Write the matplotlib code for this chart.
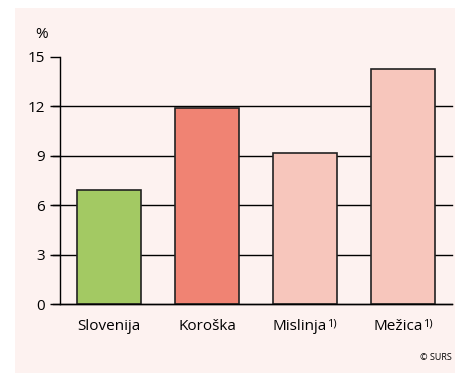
import matplotlib
matplotlib.use("Agg")
import matplotlib.pyplot as plt
from matplotlib.patches import Rectangle

categories = ["Slovenija", "Koroška", "Mislinja", "Mežica"]
footnotes = ["", "", "1)", "1)"]
values = [6.9, 11.9, 9.2, 14.3]
colors = ["#a3c963", "#f08373", "#f7c6bc", "#f7c6bc"]
yticks = [0, 3, 6, 9, 12, 15]
bg = "#fdf2f0"

plt.rcParams['font.family'] = ['Open Sans', 'DejaVu Sans']

fig = plt.figure(figsize=(4.56, 3.73), dpi=100)
fig.patches.append(Rectangle((15/456, 0), 1 - 15/456, 1 - 8/373,
                             transform=fig.transFigure, facecolor=bg,
                             edgecolor='none', zorder=-10))
ax = fig.add_axes([60/456, 1 - 304/373, 392/456, (304 - 57)/373])
ax.set_facecolor('none')

x = range(len(categories))
for yv in yticks[1:-1]:
    ax.axhline(yv, color='black', lw=1.0, zorder=1, xmin=-7/392, clip_on=False)
ax.bar(x, values, width=0.65, color=colors, edgecolor='#222222', linewidth=1.2, zorder=3)

ax.set_xlim(-0.5, 3.5)
ax.set_ylim(0, 15)
ax.set_yticks(yticks)
ax.set_yticklabels([str(v) for v in yticks], fontsize=11)
ax.tick_params(axis='y', length=7, width=1.0, pad=4, colors='black')
ax.set_xticks([])
for s in ['top', 'right']:
    ax.spines[s].set_visible(False)
ax.spines['left'].set_linewidth(1.0)
ax.spines['bottom'].set_linewidth(1.0)
ax.spines['bottom'].set_bounds(-0.5, 3.5)
ax.axhline(0, color='black', lw=1.0, zorder=4, xmin=-7/392, clip_on=False)

for i, (c, f) in enumerate(zip(categories, footnotes)):
    shift = -0.05 if f else 0.0
    t = ax.text(i + shift, -1.35, c, ha='center', va='center', fontsize=11)
    if f:
        ax.annotate(f, xy=(1, 1), xycoords=t, xytext=(0.0, 0.5),
                    textcoords='offset points', ha='left', va='top', fontsize=8)

fig.text(48/456, 1 - 38/373, "%", fontsize=11, ha='right', va='baseline')
fig.text(452/456, 1 - 358/373, "© SURS", fontsize=6.5, ha='right', va='center')

fig.savefig("out.png", dpi=100)
